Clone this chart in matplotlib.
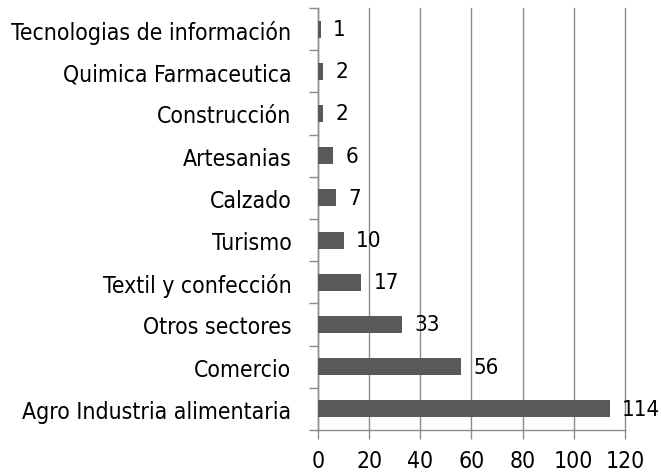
import matplotlib
matplotlib.use("Agg")
import matplotlib.pyplot as plt
from matplotlib import font_manager

categories = ["Agro Industria alimentaria", "Comercio", "Otros sectores", "Textil y confección",
              "Turismo", "Calzado", "Artesanias", "Construcción", "Quimica Farmaceutica",
              "Tecnologias de información"]
values = [114, 56, 33, 17, 10, 7, 6, 2, 2, 1]
xticks = [0, 20, 40, 60, 80, 100, 120]

names = {f.name for f in font_manager.fontManager.ttflist}
fam = "Liberation Sans Narrow" if "Liberation Sans Narrow" in names else "DejaVu Sans"
plt.rcParams['font.family'] = [fam, 'DejaVu Sans']
if fam == "DejaVu Sans":
    plt.rcParams['font.stretch'] = 'condensed'

fig = plt.figure(figsize=(6.61, 4.77), dpi=100)
ax = fig.add_axes([318/661, 1-431/477, (625-318)/661, (431-9)/477])

grey = "#8c8c8c"
y = list(range(len(categories)))
ax.barh(y, values, height=0.4, color="#595959", zorder=3)
ax.set_xlim(0, 120)
ax.set_ylim(-0.5, len(categories)-0.5)
ax.set_xticks(xticks)
ax.set_xticklabels([str(t) for t in xticks])
ax.set_yticks(y)
ax.set_yticklabels(categories)
ax.set_yticks([i - 0.5 for i in range(len(categories)+1)], minor=True)
ax.tick_params(axis='y', which='major', length=0, pad=19, labelsize=16.5)
ax.tick_params(axis='y', which='minor', length=6.5, color=grey, width=1)
ax.tick_params(axis='x', length=6.5, color=grey, width=1, pad=7, labelsize=16.5)
ax.xaxis.grid(True, color=grey, linewidth=1, zorder=0)
for gl in ax.get_xgridlines():
    gl.set_clip_on(False)
for s in ['top', 'right']:
    ax.spines[s].set_visible(False)
for s in ['left', 'bottom']:
    ax.spines[s].set_color(grey)
    ax.spines[s].set_linewidth(1)

for yi, v in zip(y, values):
    ax.annotate(str(v), (v, yi), xytext=(9, 0), textcoords='offset points',
                va='center', ha='left', fontsize=16)

fig.savefig("out.png", dpi=100)
